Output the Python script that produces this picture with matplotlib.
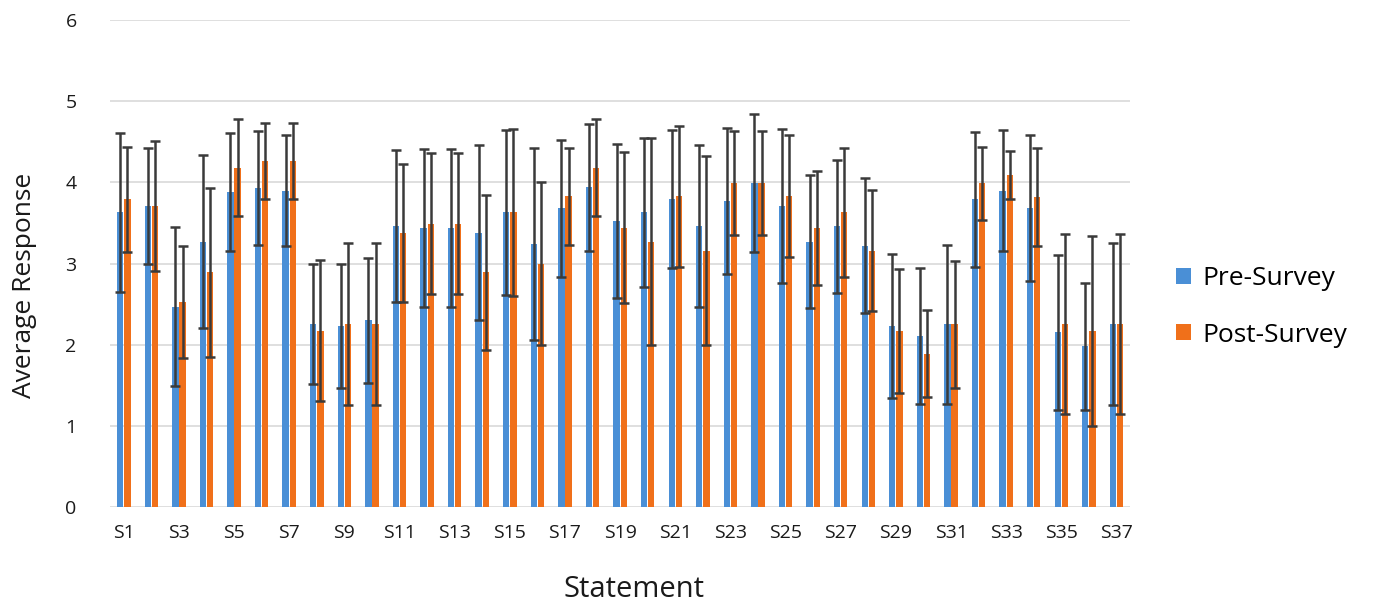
import numpy as np
import matplotlib.pyplot as plt

# statement labels
statements = [f"S{i}" for i in range(1, 38)]

# average responses
pre_mean = [3.63, 3.71, 2.47, 3.27, 3.88, 3.93, 3.90, 2.25, 2.23, 2.30,
            3.46, 3.44, 3.44, 3.38, 3.63, 3.24, 3.68, 3.94, 3.52, 3.63,
            3.79, 3.46, 3.77, 3.99, 3.71, 3.27, 3.46, 3.22, 2.23, 2.11,
            2.25, 3.79, 3.90, 3.68, 2.15, 1.98, 2.25]
post_mean = [3.79, 3.71, 2.53, 2.89, 4.18, 4.26, 4.26, 2.17, 2.25, 2.25,
             3.38, 3.49, 3.49, 2.89, 3.63, 3.00, 3.83, 4.18, 3.44, 3.27,
             3.83, 3.16, 3.99, 3.99, 3.83, 3.44, 3.63, 3.16, 2.17, 1.89,
             2.25, 3.99, 4.09, 3.82, 2.25, 2.17, 2.25]

# standard deviations (error bars)
pre_err = [0.98, 0.72, 0.98, 1.07, 0.73, 0.70, 0.69, 0.74, 0.77, 0.77,
           0.94, 0.97, 0.97, 1.08, 1.02, 1.18, 0.84, 0.78, 0.95, 0.92,
           0.85, 1.00, 0.90, 0.85, 0.95, 0.82, 0.82, 0.83, 0.89, 0.84,
           0.98, 0.83, 0.75, 0.90, 0.95, 0.78, 1.00]
post_err = [0.65, 0.80, 0.69, 1.04, 0.60, 0.47, 0.47, 0.87, 1.00, 1.00,
            0.85, 0.87, 0.87, 0.95, 1.03, 1.00, 0.60, 0.60, 0.93, 1.28,
            0.87, 1.17, 0.64, 0.64, 0.75, 0.70, 0.80, 0.75, 0.76, 0.54,
            0.78, 0.45, 0.30, 0.60, 1.11, 1.17, 1.11]

plt.rcParams['font.family'] = ['Open Sans', 'DejaVu Sans']

fig = plt.figure(figsize=(13.75, 6.10), dpi=100)
ax = fig.add_axes([0.08, 0.169, 0.742, 0.798])

x = np.arange(len(statements))
w = 0.23
err_kw = dict(ecolor='#3a3a3a', elinewidth=1.8, capsize=3.5, capthick=1.8)

ax.bar(x - 0.13, pre_mean, w, yerr=pre_err, color='#4A8FD6',
       label='Pre-Survey', error_kw=err_kw, zorder=3)
ax.bar(x + 0.13, post_mean, w, yerr=post_err, color='#F0701A',
       label='Post-Survey', error_kw=err_kw, zorder=3)

ax.set_xlim(-0.5, len(statements) - 0.5)
ax.set_ylim(0, 6)
ax.set_yticks(range(0, 7))
ax.set_xticks(x[::2])
ax.set_xticklabels(statements[::2])
ax.tick_params(axis='both', length=0, labelsize=14, colors='#1a1a1a')
ax.tick_params(axis='y', pad=24)
ax.tick_params(axis='x', pad=12)

ax.grid(axis='y', color='#d9d9d9', linewidth=1.2, zorder=0)
for s in ax.spines.values():
    s.set_visible(False)

ax.set_xlabel("Statement", fontsize=21, color='#1a1a1a')
ax.set_ylabel("Average Response", fontsize=19, color='#1a1a1a')
ax.xaxis.set_label_coords(0.514, -0.14)
ax.yaxis.set_label_coords(-0.072, 0.456)

fig.legend(loc='center left', bbox_to_anchor=(0.838, 0.497), frameon=False,
           fontsize=19, handlelength=0.55, handleheight=0.55,
           labelspacing=1.2, handletextpad=0.45)

fig.savefig("out.png", dpi=100)
